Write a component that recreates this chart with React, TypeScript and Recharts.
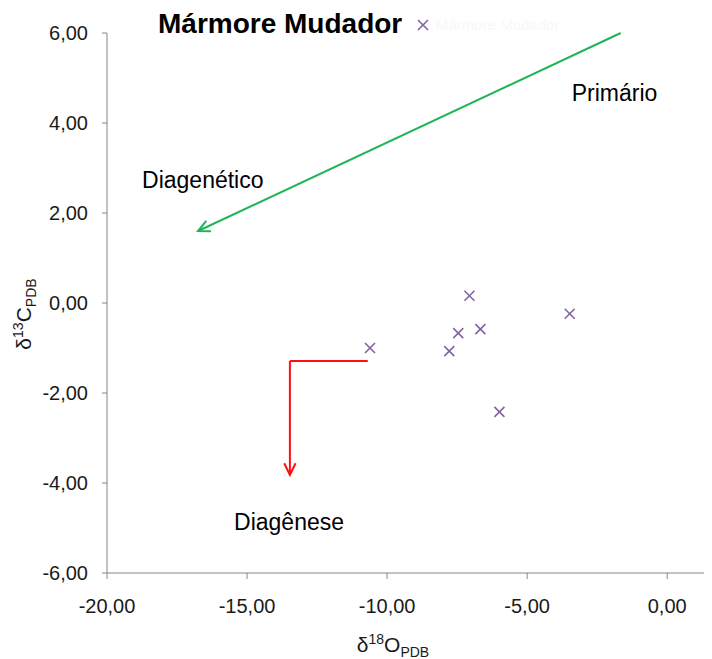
import { ScatterChart, Scatter, XAxis, YAxis, ReferenceLine, ReferenceDot } from "recharts";

// δ18O (x) and δ13C (y) of each sample
const d18O = [-7.06, -7.46, -6.67, -7.78, -10.61, -3.48, -5.99];
const d13C = [0.16, -0.67, -0.58, -1.07, -1.0, -0.24, -2.42];

const xTicks = [-20, -15, -10, -5, 0];
const yTicks = [-6, -4, -2, 0, 2, 4, 6];

// annotation arrows (data coordinates)
const greenArrow = [{ x: -1.66, y: 6.0 }, { x: -16.75, y: 1.6 }];
const redCorner = [{ x: -10.69, y: -1.29 }, { x: -13.47, y: -1.29 }, { x: -13.47, y: -3.82 }];

const notes = [
    { text: "Primário", x: -1.88, y: 4.67 },
    { text: "Diagenético", x: -16.58, y: 2.73 },
    { text: "Diagênese", x: -13.5, y: -4.87 },
];

const data = d18O.map((x, i) => ({ x, y: d13C[i] }));

const fmt = (v: number) => v.toFixed(2).replace(".", ",");
const FONT = "'Liberation Sans', Arial, sans-serif";

const XMark = (props: any) => {
    const { cx, cy } = props;
    const s = 5;
    return (
        <g stroke="#8064a2" strokeWidth={1.6}>
            <line x1={cx - s} y1={cy - s} x2={cx + s} y2={cy + s} />
            <line x1={cx - s} y1={cy + s} x2={cx + s} y2={cy - s} />
        </g>
    );
};

const arrowShape = (color: string, head: boolean) => (props: any) => {
    const { x1, y1, x2, y2 } = props;
    const a = Math.atan2(y2 - y1, x2 - x1);
    const L = 13;
    const w = 0.45;
    return (
        <g stroke={color} strokeWidth={2} fill="none">
            <line x1={x1} y1={y1} x2={x2} y2={y2} />
            {head && (
                <polyline
                    points={`${x2 - L * Math.cos(a - w)},${y2 - L * Math.sin(a - w)} ${x2},${y2} ${x2 - L * Math.cos(a + w)},${y2 - L * Math.sin(a + w)}`}
                />
            )}
        </g>
    );
};

export default function App() {
    return (
        <div style={{ position: "relative", width: 704, height: 651 }}>
            <div
                style={{
                    position: "absolute",
                    left: 150,
                    top: 0,
                    fontFamily: FONT,
                    fontWeight: "bold",
                    fontSize: 28,
                    color: "#000",
                    zIndex: 2,
                }}
            >
                Mármore Mudador
            </div>
            <div
                style={{
                    position: "absolute",
                    left: 408,
                    top: 8,
                    display: "flex",
                    alignItems: "center",
                    fontFamily: FONT,
                    fontSize: 15,
                    zIndex: 2,
                }}
            >
                <svg width={14} height={14} style={{ marginRight: 6 }}>
                    <XMark cx={7} cy={7} />
                </svg>
                <span style={{ color: "#f8f8f8" }}>Mármore Mudador</span>
            </div>
            <ScatterChart width={704} height={651} margin={{ top: 25, right: 0, bottom: 26, left: 20 }}>
                <XAxis
                    type="number"
                    dataKey="x"
                    domain={[-20, 1.6]}
                    ticks={xTicks}
                    allowDataOverflow
                    tickFormatter={fmt}
                    stroke="#868686"
                    tickSize={6}
                    tickMargin={20}
                    tick={{ fill: "#1a1a1a", fontSize: 20, fontFamily: FONT }}
                    height={60}
                    label={(p: any) => {
                        const vb = p.viewBox;
                        const cx = vb.x + 286;
                        const cy = vb.y + 79;
                        return (
                            <text x={cx} y={cy} textAnchor="middle" fontFamily={FONT} fontSize={21} fill="#1a1a1a">
                                δ<tspan fontSize={14} dy={-8}>18</tspan>
                                <tspan dy={8}>O</tspan>
                                <tspan fontSize={14} dy={5}>PDB</tspan>
                            </text>
                        );
                    }}
                />
                <YAxis
                    type="number"
                    dataKey="y"
                    domain={[-6, 6]}
                    ticks={yTicks}
                    tickFormatter={fmt}
                    stroke="#868686"
                    tickSize={5}
                    tickMargin={14}
                    tick={{ fill: "#1a1a1a", fontSize: 20, fontFamily: FONT }}
                    width={79}
                    label={(p: any) => {
                        const vb = p.viewBox;
                        const cx = 23;
                        const cy = vb.y + vb.height / 2 + 11;
                        return (
                            <text
                                x={cx}
                                y={cy}
                                textAnchor="middle"
                                transform={`rotate(-90, ${cx}, ${cy})`}
                                fontFamily={FONT}
                                fontSize={21}
                                fill="#1a1a1a"
                            >
                                δ<tspan fontSize={14} dy={-8}>13</tspan>
                                <tspan dy={8}>C</tspan>
                                <tspan fontSize={14} dy={5}>PDB</tspan>
                            </text>
                        );
                    }}
                />
                <ReferenceLine
                    segment={greenArrow}
                    ifOverflow="visible"
                    shape={arrowShape("#1fb456", true)}
                />
                <ReferenceLine
                    segment={[redCorner[0], redCorner[1]]}
                    ifOverflow="visible"
                    shape={arrowShape("#ff1010", false)}
                />
                <ReferenceLine
                    segment={[redCorner[1], redCorner[2]]}
                    ifOverflow="visible"
                    shape={arrowShape("#ff1010", true)}
                />
                {notes.map((n) => (
                    <ReferenceDot
                        key={n.text}
                        x={n.x}
                        y={n.y}
                        r={0}
                        ifOverflow="visible"
                        stroke="none"
                        fill="none"
                        label={{ value: n.text, position: "center", fill: "#000", fontSize: 23, fontFamily: FONT }}
                    />
                ))}
                <Scatter name="Mármore Mudador" data={data} shape={<XMark />} isAnimationActive={false} />
            </ScatterChart>
        </div>
    );
}
